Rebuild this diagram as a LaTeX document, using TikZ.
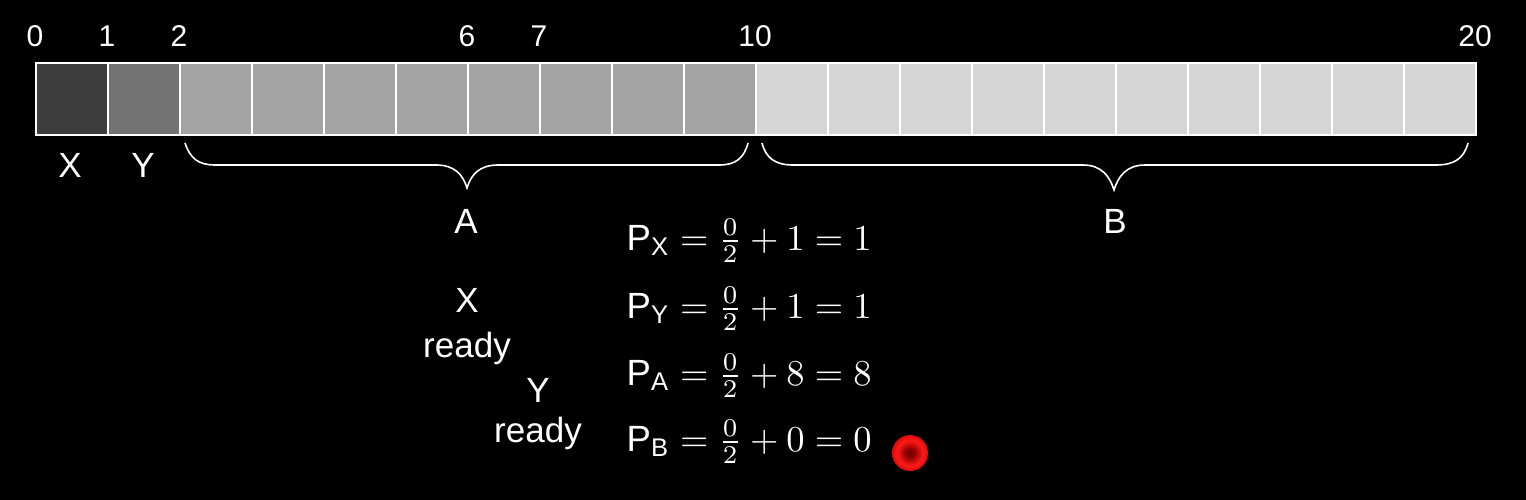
\documentclass[tikz,border=0pt]{standalone}
\usepackage{amsmath}
\usepackage{fontspec}
\setmainfont{Liberation Sans}
\setsansfont{Liberation Sans}
\pgfdeclareradialshading{reddot}{\pgfpoint{0bp}{0bp}}{color(0bp)=(red!40!black); color(7bp)=(red!60!black); color(18bp)=(red!90!white); color(30bp)=(red!75!black); color(42bp)=(red!25!black); color(50bp)=(black)}
\tikzset{
  cellbox/.style={draw=white, line width=1.6pt, minimum width=72pt, minimum height=72pt, inner sep=0pt, anchor=north west},
  numlbl/.style={text=white, font=\fontsize{30}{34}\selectfont, anchor=base, inner sep=0pt},
  lbl/.style={text=white, font=\fontsize{35}{40}\selectfont, anchor=base, inner sep=0pt},
  eqn/.style={text=white, font=\fontsize{10}{12}\selectfont, scale=3.65, anchor=base west, inner sep=0pt},
  bracepath/.style={draw=white, line width=1.6pt}
}
\begin{document}
\begin{tikzpicture}[x=1pt,y=-1pt]
\fill[black] (0,0) rectangle (1526,500);
\useasboundingbox (0,0) rectangle (1526,500);
% cells
\foreach \i in {0,...,19}{
  \ifnum\i=0 \def\cc{black!76}\else
  \ifnum\i=1 \def\cc{black!55}\else
  \ifnum\i<10 \def\cc{black!36}\else
  \def\cc{black!16}\fi\fi\fi
  \node[cellbox, fill=\cc] (c\i) at ({35+72*\i},62) {};
}
% index labels
\node[numlbl] (n0) at (35,47) {0};
\node[numlbl] (n1) at (107,47) {1};
\node[numlbl] (n2) at (179,47) {2};
\node[numlbl] (n6) at (467,47) {6};
\node[numlbl] (n7) at (539,47) {7};
\node[numlbl] (n10) at (755,47) {10};
\node[numlbl] (n20) at (1475,47) {20};
% X Y labels
\node[lbl] (lx) at (70,177) {X};
\node[lbl] (ly) at (143,177) {Y};
% braces
\path[bracepath] (185,143) .. controls (190,158) and (198,165) .. (215,165) -- (436,165)
  .. controls (455,165) and (463,175) .. (467,188)
  .. controls (471,175) and (479,165) .. (498,165) -- (719,165)
  .. controls (736,165) and (744,158) .. (748,143);
\path[bracepath] (762,143) .. controls (766,158) and (775,165) .. (793,165) -- (1083,165)
  .. controls (1102,165) and (1110,177) .. (1114,190)
  .. controls (1118,177) and (1126,165) .. (1145,165) -- (1436,165)
  .. controls (1455,165) and (1464,158) .. (1468,143);
\node[lbl] (la) at (466,233) {A};
\node[lbl] (lb) at (1115,233) {B};
% ready labels
\node[lbl] (rx1) at (467,312) {X};
\node[lbl] (rx2) at (467,357) {ready};
\node[lbl] (ry1) at (538,402) {Y};
\node[lbl] (ry2) at (538,442) {ready};
% equations
\node[eqn] (ex) at (626,250) {$\text{P}_{\text{X}} = \frac{0}{2} + 1 = 1$};
\node[eqn] (ey) at (626,318) {$\text{P}_{\text{Y}} = \frac{0}{2} + 1 = 1$};
\node[eqn] (ea) at (626,385) {$\text{P}_{\text{A}} = \frac{0}{2} + 8 = 8$};
\node[eqn] (eb) at (626,451) {$\text{P}_{\text{B}} = \frac{0}{2} + 0 = 0$};
% red pointer
\shade[shading=reddot] (910,453) circle (18pt);
\end{tikzpicture}
\end{document}
